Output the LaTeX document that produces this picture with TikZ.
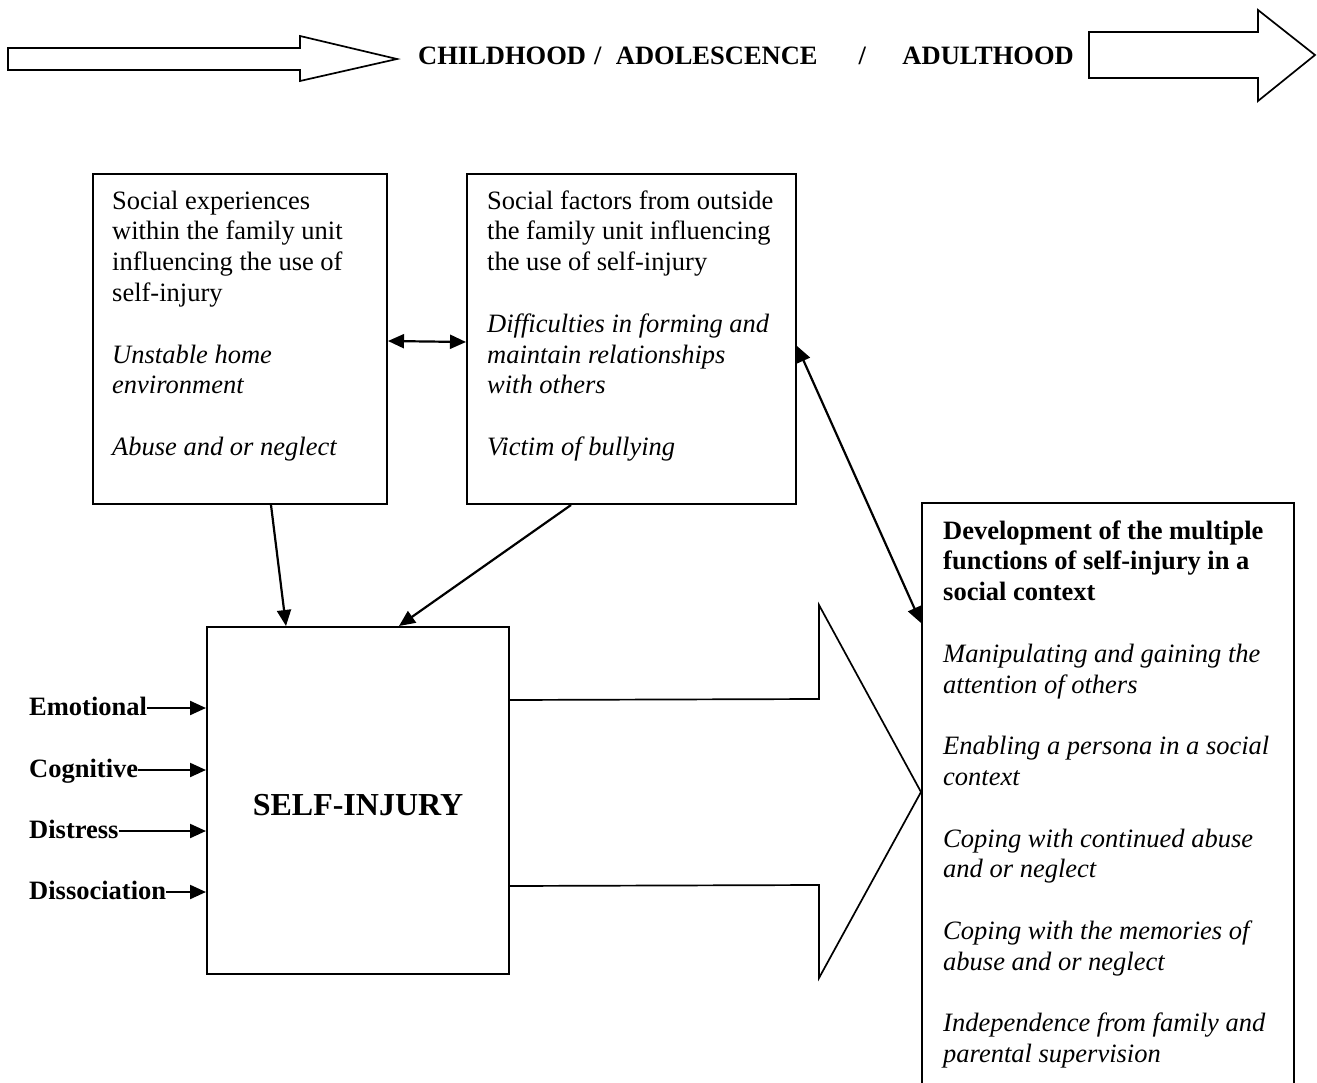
\documentclass[tikz,border=0pt]{standalone}
\usepackage{fontspec}
\setmainfont{Liberation Serif}
\usetikzlibrary{arrows.meta}
\begin{document}
\begin{tikzpicture}[x=1pt,y=-1pt,
  box/.style={draw,line width=2pt,inner sep=0pt,anchor=north west},
  body/.style={inner sep=0pt,anchor=north west,align=left,
    font=\fontsize{26.5}{30.8}\selectfont},
  factor/.style={inner sep=0pt,anchor=base west,
    font=\fontsize{26.5}{30.8}\selectfont\bfseries},
  conn/.style={line width=2.2pt,-{Triangle[length=16pt,width=14pt]}},
  both/.style={line width=2.2pt,{Triangle[length=16pt,width=14pt]}-{Triangle[length=16pt,width=14pt]}},
  block/.style={draw,line width=1.7pt,line join=miter}]
\useasboundingbox (0,0) rectangle (1317,1083);
\clip (0,0) rectangle (1317,1083);

% time line across the top
\draw[block] (8,48) -- (300,48) -- (300,36) -- (397,59) -- (300,81) -- (300,70) -- (8,70) -- cycle;
\node[inner sep=0pt,anchor=base west,font=\fontsize{26.5}{30.8}\selectfont\bfseries] (period) at (418,64.5)
  {CHILDHOOD\hspace{8pt}/\hspace{14.5pt}ADOLESCENCE\hspace{41pt}/\hspace{36.5pt}ADULTHOOD};
\draw[block] (1089,32) -- (1258,32) -- (1258,10) -- (1315,55) -- (1258,101) -- (1258,78) -- (1089,78) -- cycle;

% social influence boxes
\node[box,minimum width=294pt,minimum height=330pt] (family) at (92,173) {};
\node[body] (familytext) at ([xshift=20pt,yshift=-14.3pt]family.north west)
  {\strut Social experiences\\within the family unit\\influencing the use of\\self-injury\\[30.8pt]
   \textit{Unstable home}\\\textit{environment}\\[30.8pt]\textit{Abuse and or neglect}};

\node[box,minimum width=329pt,minimum height=330pt] (outside) at (466,173) {};
\node[body] (outsidetext) at ([xshift=21pt,yshift=-14.3pt]outside.north west)
  {\strut Social factors from outside\\the family unit influencing\\the use of self-injury\\[30.8pt]
   \textit{Difficulties in forming and}\\\textit{maintain relationships}\\\textit{with others}\\[30.8pt]
   \textit{Victim of bullying}};

% central box
\node[box,minimum width=302pt,minimum height=347pt,
  font=\fontsize{32}{38}\selectfont\bfseries,text height=29pt,text depth=0pt] (si) at (206,626) {SELF-INJURY};

% functions box (runs off the bottom edge)
\node[box,minimum width=372pt,minimum height=640pt] (func) at (921,502) {};
\node[body] (functext) at ([xshift=22pt,yshift=-15.3pt]func.north west)
  {\strut\textbf{Development of the multiple}\\\textbf{functions of self-injury in a}\\\textbf{social context}\\[30.8pt]
   \textit{Manipulating and gaining the}\\\textit{attention of others}\\[30.8pt]
   \textit{Enabling a persona in a social}\\\textit{context}\\[30.8pt]
   \textit{Coping with continued abuse}\\\textit{and or neglect}\\[30.8pt]
   \textit{Coping with the memories of}\\\textit{abuse and or neglect}\\[30.8pt]
   \textit{Independence from family and}\\\textit{parental supervision}};

% block arrow from self-injury to its functions
\draw[block] ([yshift=100.5pt]si.east) -- (819,699) -- (819,605) -- (921,792) -- (819,978) -- (819,885)
  -- ([yshift=-85.5pt]si.east);

% factors feeding into self-injury
\node[factor] (emo) at (29,715) {Emotional};
\node[factor] (cog) at (29,777) {Cognitive};
\node[factor] (dis) at (29,838) {Distress};
\node[factor] (dia) at (29,899) {Dissociation};
\foreach \f in {emo,cog,dis,dia}
  \draw[conn] ([yshift=7pt]\f.base east) -- ([yshift=7pt]\f.base east -| si.west);

% connectors between boxes
\draw[both] ([yshift=-2pt]family.east) -- ([yshift=-3pt]outside.west);
\draw[both] ([yshift=-7pt]outside.east) -- ([yshift=-121pt]func.north west);
\draw[conn] ([xshift=31pt]family.south) -- ([xshift=-72pt]si.north);
\draw[conn] ([xshift=-60.5pt]outside.south) -- ([xshift=41pt]si.north);
\end{tikzpicture}
\end{document}
